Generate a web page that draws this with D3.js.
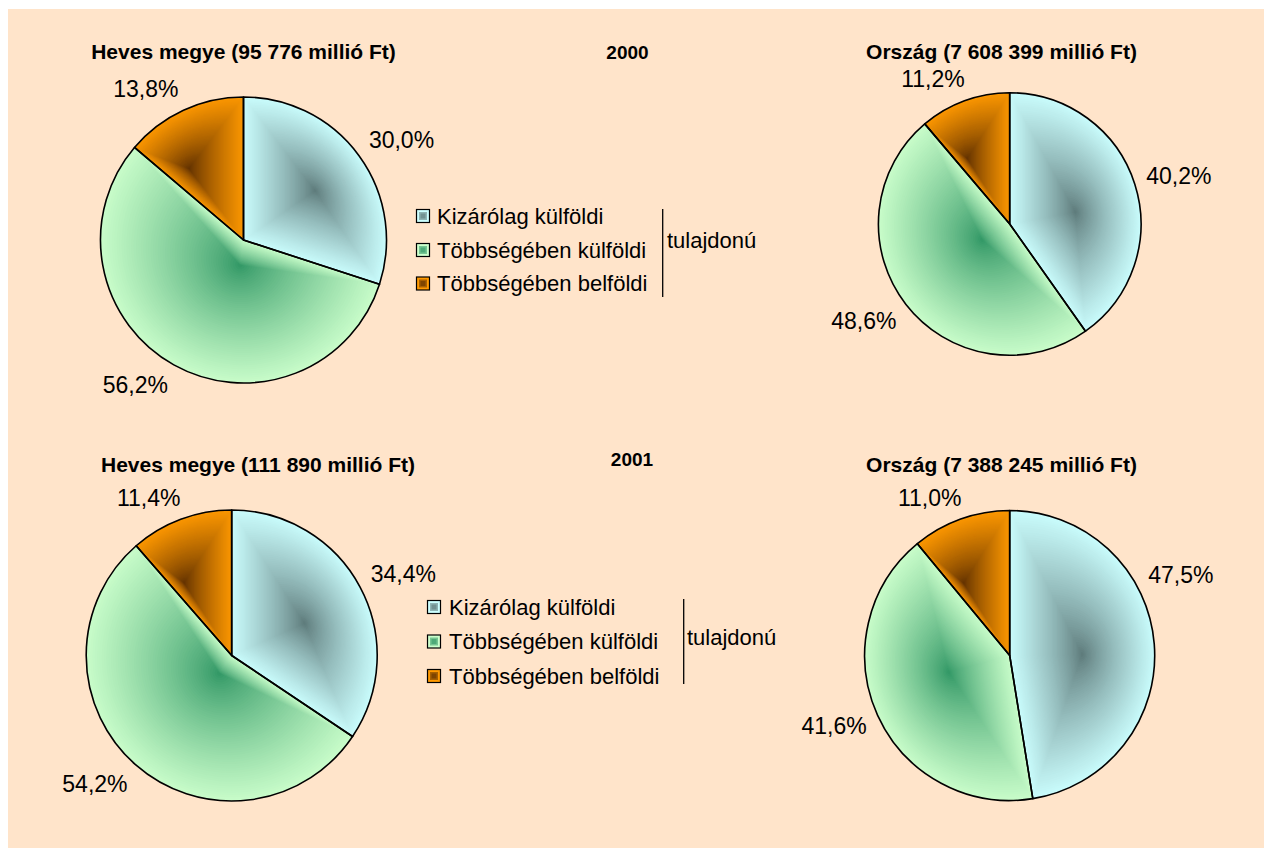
<!DOCTYPE html>
<html>
<head>
<meta charset="utf-8">
<script src="https://cdn.jsdelivr.net/npm/d3@7"></script>
<style>
    body { margin: 0; background: #fff; }
    text { font-family: "Liberation Sans", Arial, sans-serif; fill: #000; }
</style>
</head>
<body>
<script>
    var width = 1266;
    var height = 848;

    // data
    const categories = ["Kizárólag külföldi", "Többségében külföldi", "Többségében belföldi"];
    const years = ["2000", "2001"];
    const hevesTotals = ["95 776", "111 890"];
    const orszagTotals = ["7 608 399", "7 388 245"];
    const heves2000 = [30.0, 56.2, 13.8];
    const orszag2000 = [40.2, 48.6, 11.2];
    const heves2001 = [34.4, 54.2, 11.4];
    const orszag2001 = [47.5, 41.6, 11.0];
    const ownershipLabel = "tulajdonú";

    const lightColors = ["#CCFFFF", "#CCFFCC", "#FF9900"];
    const darkColors = ["#5B7777", "#2E9563", "#5E2F00"];

    const svg = d3.select("body").append("svg")
        .attr("width", width)
        .attr("height", height);

    svg.append("rect")
        .attr("x", 8).attr("y", 9)
        .attr("width", width - 10).attr("height", height - 9)
        .attr("fill", "#FFE4CA");

    const panels = [
        { values: heves2000, title: `Heves megye (${hevesTotals[0]} millió Ft)`, cx: 243.5, cy: 240, r: 143, tx: 243.5, ty: 59 },
        { values: orszag2000, title: `Ország (${orszagTotals[0]} millió Ft)`, cx: 1009.7, cy: 224, r: 131.3, tx: 1001.5, ty: 59 },
        { values: heves2001, title: `Heves megye (${hevesTotals[1]} millió Ft)`, cx: 231.7, cy: 655.5, r: 145.5, tx: 258, ty: 472 },
        { values: orszag2001, title: `Ország (${orszagTotals[1]} millió Ft)`, cx: 1009.7, cy: 655.5, r: 145, tx: 1001.5, ty: 472 }
    ];

    const pie = d3.pie().sort(null).value(d => d);
    const fmt = v => d3.format(".1f")(v).replace(".", ",") + "%";
    const labelMaxX = width - 52;
    let clipId = 0;

    // bounding box centre of a slice (center + arc ends + cardinal points inside the arc)
    function sliceBox(d, r) {
        const pts = [[0, 0]];
        const pt = a => [r * Math.sin(a), -r * Math.cos(a)];
        pts.push(pt(d.startAngle), pt(d.endAngle));
        for (let k = 0; k <= 4; k++) {
            const a = k * Math.PI / 2;
            if (a > d.startAngle && a < d.endAngle) pts.push(pt(a));
        }
        const xs = pts.map(p => p[0]), ys = pts.map(p => p[1]);
        return [(d3.min(xs) + d3.max(xs)) / 2, (d3.min(ys) + d3.max(ys)) / 2];
    }

    panels.forEach(p => {
        const arc = d3.arc().innerRadius(0).outerRadius(p.r);
        const arcs = pie(p.values);

        arcs.forEach((d, i) => {
            const pathD = arc(d);
            const id = "clip" + (clipId++);
            svg.append("clipPath").attr("id", id).append("path")
                .attr("d", pathD).attr("transform", `translate(${p.cx},${p.cy})`);
            const sg = svg.append("g").attr("clip-path", `url(#${id})`)
                .append("g").attr("transform", `translate(${p.cx},${p.cy})`);
            const [bx, by] = sliceBox(d, p.r);
            const interp = d3.interpolateRgb(darkColors[i], lightColors[i]);
            const steps = 60;
            // "from center" gradient: shrinking copies of the slice towards its box centre
            for (let k = steps; k > 0; k--) {
                const t = k / steps;
                sg.append("path")
                    .attr("d", pathD)
                    .attr("transform", `translate(${bx},${by}) scale(${t * 1.04}) translate(${-bx},${-by})`)
                    .attr("fill", interp(Math.min(1, Math.pow(t, 0.8))));
            }
        });

        // outlines on top of the fills
        svg.append("g")
            .attr("transform", `translate(${p.cx},${p.cy})`)
            .selectAll("path")
            .data(arcs)
            .join("path")
            .attr("d", arc)
            .attr("fill", "none")
            .attr("stroke", "#000")
            .attr("stroke-width", 1.6)
            .attr("stroke-linejoin", "round");

        // percentage labels outside the pie
        arcs.forEach(d => {
            const t = svg.append("text")
                .style("font-size", "23px")
                .attr("text-anchor", "middle")
                .text(fmt(d.data));
            const w = t.node().getComputedTextLength();
            const h = 20;
            let a = (d.startAngle + d.endAngle) / 2;
            let lx, ly;
            for (let n = 0; n < 200; n++) {
                const ux = Math.sin(a), uy = -Math.cos(a);
                const sx = Math.max(-1, Math.min(1, ux * 2.5));
                const sy = Math.max(-1, Math.min(1, uy * 1.5));
                lx = p.cx + (p.r + 12) * ux + sx * w / 2;
                ly = p.cy + (p.r + 12) * uy + sy * h / 2;
                if (lx + w / 2 <= labelMaxX || a <= 0) break;
                a -= 0.01;
            }
            t.attr("x", lx).attr("y", ly + 8);
        });

        svg.append("text")
            .attr("x", p.tx).attr("y", p.ty)
            .attr("text-anchor", "middle")
            .style("font-size", "21px")
            .style("font-weight", "bold")
            .text(p.title);
    });

    // year labels
    svg.selectAll("text.year")
        .data(years)
        .join("text")
        .attr("class", "year")
        .attr("x", (d, i) => [627.5, 632][i])
        .attr("y", (d, i) => [59, 466][i])
        .attr("text-anchor", "middle")
        .style("font-size", "19px")
        .style("font-weight", "bold")
        .text(d => d);

    // legends
    const legends = [
        { sx: 416, rows: [216, 250, 283.5], tx: 437, bx: 662.7, by1: 209, by2: 297, ox: 667, oy: 240 },
        { sx: 427, rows: [607, 641.5, 676], tx: 449, bx: 683.7, by1: 599, by2: 684, ox: 687, oy: 637 }
    ];

    legends.forEach(L => {
        const lg = svg.append("g");
        const y = d3.scaleOrdinal(categories, L.rows);
        categories.forEach((c, i) => {
            const interp = d3.interpolateRgb(darkColors[i], lightColors[i]);
            lg.append("rect")
                .attr("x", L.sx + 0.5).attr("y", y(c) - 6.5)
                .attr("width", 13).attr("height", 13)
                .attr("fill", lightColors[i])
                .attr("stroke", "#000").attr("stroke-width", 1.2);
            lg.append("rect")
                .attr("x", L.sx + 3).attr("y", y(c) - 4)
                .attr("width", 8).attr("height", 8)
                .attr("fill", interp(0.45));
            lg.append("rect")
                .attr("x", L.sx + 4.5).attr("y", y(c) - 2.5)
                .attr("width", 5).attr("height", 5)
                .attr("fill", interp(0.2));
            lg.append("text")
                .attr("x", L.tx).attr("y", y(c) + 7.7)
                .style("font-size", "22px")
                .text(c);
        });
        lg.append("line")
            .attr("x1", L.bx).attr("x2", L.bx)
            .attr("y1", L.by1).attr("y2", L.by2)
            .attr("stroke", "#000").attr("stroke-width", 1.3);
        lg.append("text")
            .attr("x", L.ox).attr("y", L.oy + 7.7)
            .style("font-size", "22px")
            .text(ownershipLabel);
    });
</script>
</body>
</html>
